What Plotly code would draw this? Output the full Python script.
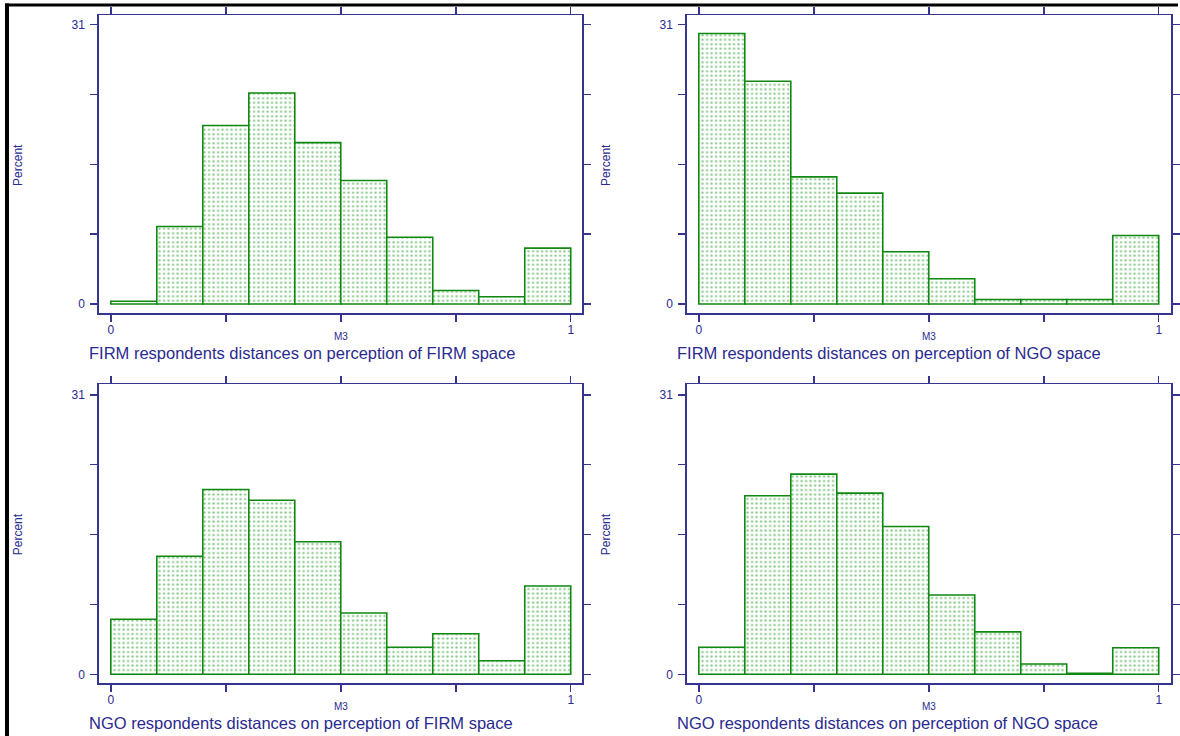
import plotly.graph_objects as go

# ---- data (percent per bin, 10 bins of width 0.1 over M3 in [0,1]) ----
bin_centers = [0.05, 0.15, 0.25, 0.35, 0.45, 0.55, 0.65, 0.75, 0.85, 0.95]
bin_width = 0.1
firm_firm = [0.3, 8.6, 19.8, 23.4, 17.9, 13.7, 7.4, 1.5, 0.8, 6.2]
firm_ngo = [30.0, 24.7, 14.1, 12.3, 5.8, 2.8, 0.5, 0.5, 0.5, 7.6]
ngo_firm = [6.1, 13.1, 20.5, 19.3, 14.7, 6.8, 3.0, 4.5, 1.5, 9.8]
ngo_ngo = [3.0, 19.8, 22.2, 20.1, 16.4, 8.8, 4.7, 1.15, 0.12, 2.95]

panel_titles = [
    "FIRM respondents distances on perception of FIRM space",
    "FIRM respondents distances on perception of NGO space",
    "NGO respondents distances on perception of FIRM space",
    "NGO respondents distances on perception of NGO space",
]
x_tickvals = [0, 0.25, 0.5, 0.75, 1]
x_ticktext = ["0", "", "", "", "1"]
y_tickvals = [0, 7.75, 15.5, 23.25, 31]
y_ticktext = ["0", "", "", "", "31"]
x_label = "M3"
y_label = "Percent"

W, H = 1180, 736
AXC = "#35358f"
TXC = "#2a2a90"
GREEN = "#118811"
FONT = "Arial, Liberation Sans"

# panel boxes in pixels: (left, right, top, bottom)
boxes = [
    (99, 583, 15, 313),
    (688, 1173, 15, 313),
    (99, 583, 384.3, 683.3),
    (688, 1173, 384.3, 683.3),
]
series = [firm_firm, firm_ngo, ngo_firm, ngo_ngo]

fig = go.Figure()
annotations = []
for i, (vals, box, title) in enumerate(zip(series, boxes, panel_titles)):
    l, r, t, b = box
    n = "" if i == 0 else str(i + 1)
    fig.add_trace(go.Bar(
        x=bin_centers, y=vals, width=[bin_width] * len(vals),
        xaxis="x" + n, yaxis="y" + n,
        marker=dict(
            color="white",
            line=dict(color=GREEN, width=1.6),
            pattern=dict(shape=".", fgcolor="#139413", bgcolor="white",
                         size=4.5, solidity=0.22),
        ),
        showlegend=False, hoverinfo="skip",
    ))
    xdom = [l / W, r / W]
    ydom = [1 - b / H, 1 - t / H]
    xpx = (r - l)
    unit_x = 460.7
    x0 = -12 / unit_x
    x1 = x0 + xpx / unit_x
    unit_y = 279.5 / 31
    y0 = -9 / unit_y
    y1 = y0 + (b - t) / unit_y
    common = dict(showline=True, linecolor=AXC, linewidth=1.5, mirror="ticks",
                  ticks="outside", ticklen=7, tickwidth=1.5, tickcolor=AXC,
                  showgrid=False, zeroline=False,
                  tickfont=dict(family=FONT, size=12, color=TXC))
    fig.update_layout(**{
        "xaxis" + n: dict(domain=xdom, range=[x0, x1], tickmode="array",
                          tickvals=x_tickvals, ticktext=x_ticktext,
                          anchor="y" + n, ticklabelstandoff=-2, **common),
        "yaxis" + n: dict(domain=ydom, range=[y0, y1], tickmode="array",
                          tickvals=y_tickvals, ticktext=y_ticktext,
                          anchor="x" + n, ticklabelstandoff=3, **common),
    })
    xmid = l + 12 + unit_x * 0.5
    annotations.append(dict(text=x_label, x=xmid / W, y=1 - (b + 23) / H,
                            xref="paper", yref="paper", showarrow=False,
                            xanchor="center", yanchor="middle",
                            font=dict(family=FONT, size=10, color=TXC)))
    annotations.append(dict(text=title, x=(l - 12) / W, y=1 - (b + 40) / H,
                            xref="paper", yref="paper", showarrow=False,
                            xanchor="left", yanchor="middle",
                            font=dict(family=FONT, size=16.5, color=TXC)))
    annotations.append(dict(text=y_label, x=(l - 81) / W, y=1 - (t + 150) / H,
                            xref="paper", yref="paper", showarrow=False, textangle=-90,
                            xanchor="center", yanchor="middle",
                            font=dict(family=FONT, size=12, color=TXC)))

shapes = [
    dict(type="line", xref="paper", yref="paper", x0=5 / W, x1=1, y0=1 - 5 / H, y1=1 - 5 / H,
         line=dict(color="black", width=3)),
    dict(type="line", xref="paper", yref="paper", x0=7 / W, x1=7 / W, y0=0, y1=1 - 3.5 / H,
         line=dict(color="black", width=4)),
]

fig.update_layout(
    width=W, height=H, autosize=False,
    margin=dict(l=0, r=0, t=0, b=0),
    paper_bgcolor="white", plot_bgcolor="white",
    bargap=0, barmode="overlay",
    annotations=annotations, shapes=shapes,
)

fig.write_html("out.html",
               config={"displayModeBar": False, "staticPlot": True},
               post_script="document.body.style.margin='0';document.body.style.padding='0';")
